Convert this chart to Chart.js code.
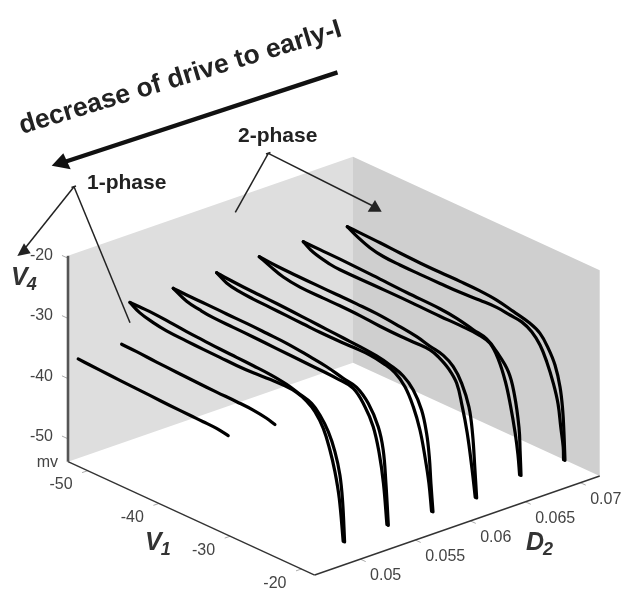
<!DOCTYPE html>
<html>
<head>
<meta charset="utf-8">
<title>V1 V4 D2</title>
<script src="https://cdn.jsdelivr.net/npm/chart.js@4"></script>
<style>
  html, body { margin: 0; padding: 0; background: #fff; }
  canvas { display: block; }
</style>
</head>
<body>
<canvas id="phaseChart" width="621" height="593"></canvas>
<script>
// tick labels
const v1Ticks = [-50, -40, -30, -20];
const d2Ticks = [0.05, 0.055, 0.06, 0.065, 0.07];
const d2TickLabels = ['0.05', '0.055', '0.06', '0.065', '0.07'];
const v4Ticks = [-20, -30, -40, -50];

// D2 value of each curve, left to right
const curveD2 = [0.0414, 0.0454, 0.0494, 0.0534, 0.0574, 0.0614, 0.0654, 0.0694];

// 1-phase curves (one branch)
const c1V1 = [-44.19, -42.55, -39.74, -36.94, -34.13, -31.33, -28.52, -26.66, -24.78, -23.15];
const c1V4 = [-30.16, -30.27, -30.45, -30.60, -30.75, -30.90, -31.00, -31.05, -31.15, -31.45];
const c2V1 = [-44.27, -42.17, -39.37, -36.56, -33.76, -30.95, -28.14, -25.82, -23.94, -22.77];
const c2V4 = [-30.31, -30.39, -30.60, -30.76, -30.90, -31.00, -31.07, -31.20, -31.54, -31.95];

// 2-phase curves (upper and lower branch)
const c3UpV1 = [-49.28, -47.88, -46.01, -43.67, -41.33, -38.99, -36.66, -34.32, -31.98, -29.65, -27.31, -25.44, -23.80, -22.63, -21.46, -20.53, -19.83, -19.45, -19.17];
const c3UpV4 = [-28.61, -28.62, -28.65, -28.88, -29.15, -29.32, -29.49, -29.60, -29.72, -29.88, -30.27, -30.92, -31.52, -32.83, -34.96, -37.77, -41.27, -45.49, -52.03];
const c3LoV1 = [-49.28, -47.88, -46.01, -44.14, -41.33, -38.99, -36.66, -34.32, -31.98, -29.65, -27.77, -25.91, -24.50, -23.33, -22.16, -21.23, -20.53, -19.92, -19.37];
const c3LoV4 = [-28.61, -29.60, -30.20, -30.55, -30.72, -30.82, -30.88, -30.95, -30.90, -30.72, -30.66, -30.84, -31.52, -32.65, -34.79, -37.88, -41.09, -45.19, -52.03];

const c4UpV1 = [-49.38, -47.50, -44.69, -41.89, -39.08, -36.28, -33.47, -30.21, -27.86, -25.54, -23.66, -22.03, -20.63, -19.93, -19.55, -19.21];
const c4UpV4 = [-28.87, -28.96, -28.98, -29.06, -29.10, -29.21, -29.35, -29.80, -30.19, -30.85, -31.32, -33.09, -36.21, -39.70, -45.03, -51.83];
const c4LoV1 = [-49.38, -47.50, -45.63, -43.77, -40.96, -38.16, -34.88, -30.21, -26.46, -24.13, -22.49, -21.33, -20.50, -19.90, -19.41];
const c4LoV4 = [-28.87, -30.00, -30.43, -30.70, -30.77, -30.85, -31.00, -31.18, -31.35, -31.74, -33.91, -36.60, -40.50, -45.18, -51.83];

const c5UpV1 = [-49.47, -48.07, -45.73, -43.39, -41.05, -38.72, -36.38, -34.04, -31.70, -29.37, -27.03, -25.16, -23.29, -21.89, -20.72, -20.02, -19.64, -19.41, -19.12];
const c5UpV4 = [-28.86, -29.03, -29.20, -29.30, -29.40, -29.54, -29.71, -29.88, -30.05, -30.21, -30.49, -30.97, -31.78, -33.34, -36.03, -39.52, -43.20, -47.50, -52.10];
const c5LoV1 = [-49.47, -48.07, -46.43, -44.33, -41.99, -39.65, -37.31, -34.98, -32.64, -30.30, -27.96, -26.09, -24.46, -23.05, -21.89, -20.95, -20.25, -19.69, -19.32];
const c5LoV4 = [-28.86, -29.80, -30.25, -30.45, -30.55, -30.66, -30.77, -30.88, -30.89, -30.83, -30.84, -31.20, -31.86, -33.43, -36.11, -39.48, -43.53, -47.65, -52.10];

const c6UpV1 = [-49.66, -47.22, -44.41, -41.61, -38.80, -36.00, -33.19, -29.93, -27.58, -25.72, -23.85, -22.45, -21.27, -20.25, -19.75, -19.42, -19.17];
const c6UpV4 = [-28.85, -29.07, -29.15, -29.20, -29.22, -29.25, -29.35, -29.74, -30.13, -30.70, -31.20, -32.32, -34.44, -37.82, -41.98, -47.60, -52.35];
const c6LoV1 = [-49.66, -48.16, -46.29, -43.95, -40.68, -38.34, -35.54, -32.73, -29.93, -27.58, -25.72, -24.55, -23.15, -21.97, -21.20, -20.50, -19.83, -19.37];
const c6LoV4 = [-28.85, -29.60, -30.40, -30.80, -30.85, -30.85, -30.95, -31.20, -31.30, -31.25, -31.30, -31.81, -32.97, -34.82, -38.20, -42.24, -47.77, -52.35];

const c7UpV1 = [-49.66, -47.32, -44.51, -39.84, -35.16, -30.49, -28.14, -25.82, -23.94, -22.54, -20.90, -20.05, -19.40, -19.25, -19.12];
const c7UpV4 = [-28.90, -28.95, -29.00, -29.20, -29.45, -29.60, -29.92, -30.55, -31.05, -32.42, -34.83, -38.19, -43.35, -47.09, -51.12];
const c7LoV1 = [-49.66, -48.26, -45.91, -44.51, -39.84, -35.16, -30.49, -27.68, -24.88, -23.47, -22.30, -21.30, -20.60, -19.95, -19.55, -19.32];
const c7LoV4 = [-28.90, -29.90, -30.60, -30.75, -30.75, -30.75, -30.85, -30.85, -31.00, -31.54, -33.55, -36.78, -40.29, -44.45, -47.92, -51.12];

const c8UpV1 = [-49.66, -47.88, -45.07, -42.27, -39.46, -36.66, -33.85, -31.05, -28.71, -26.38, -24.04, -22.63, -21.47, -20.53, -19.83, -19.45, -19.27, -19.13];
const c8UpV4 = [-28.95, -29.00, -29.12, -29.30, -29.42, -29.45, -29.42, -29.48, -29.73, -30.35, -31.06, -31.96, -33.82, -36.08, -39.30, -42.97, -46.74, -51.15];
const c8LoV1 = [-49.66, -48.34, -46.48, -44.61, -42.27, -39.46, -36.66, -33.85, -31.05, -28.71, -26.84, -25.20, -23.80, -22.63, -21.69, -20.75, -20.10, -19.72, -19.38, -19.33];
const c8LoV4 = [-28.95, -29.80, -30.70, -31.15, -31.29, -31.31, -31.30, -31.25, -31.05, -30.95, -31.20, -31.45, -32.32, -33.90, -36.16, -39.29, -42.31, -45.95, -49.06, -51.15];

// box limits
const d2Min = 0.0456, d2Max = 0.0715;
const v1Min = -52.1, v1Max = -17.5;
const v4Min = -54.2, v4Max = -20;

// fixed 3d view, gives x/y on the flat chart scales
function project(d2, v1, v4) {
    return {
        x: 68 + (v1 - v1Min) * 7.13 + (d2 - d2Min) * 11004,
        y: 461.7 + (v1 - v1Min) * 3.275 - (d2 - d2Min) * 3822 - (v4 - v4Min) * 6.02
    };
}

function curve(d2, v1s, v4s) {
    return v1s.map((v1, i) => project(d2, v1, v4s[i]));
}

function curveDataset(d2, v1s, v4s) {
    return {
        data: curve(d2, v1s, v4s),
        showLine: true,
        borderColor: '#000',
        borderWidth: 3.2,
        tension: 0.4,
        borderCapStyle: 'round',
        borderJoinStyle: 'round',
        pointRadius: 0,
        order: 1
    };
}

function wallDataset(points, color) {
    return {
        data: points,
        showLine: true,
        fill: 'shape',
        backgroundColor: color,
        borderWidth: 0,
        borderColor: color,
        tension: 0,
        pointRadius: 0,
        order: 10
    };
}

function axisDataset(points, color, width) {
    return {
        data: points,
        showLine: true,
        borderColor: color,
        borderWidth: width,
        tension: 0,
        pointRadius: 0,
        order: 5
    };
}

const datasets = [
    curveDataset(curveD2[0], c1V1, c1V4),
    curveDataset(curveD2[1], c2V1, c2V4),
    curveDataset(curveD2[2], c3UpV1, c3UpV4),
    curveDataset(curveD2[2], c3LoV1, c3LoV4),
    curveDataset(curveD2[3], c4UpV1, c4UpV4),
    curveDataset(curveD2[3], c4LoV1, c4LoV4),
    curveDataset(curveD2[4], c5UpV1, c5UpV4),
    curveDataset(curveD2[4], c5LoV1, c5LoV4),
    curveDataset(curveD2[5], c6UpV1, c6UpV4),
    curveDataset(curveD2[5], c6LoV1, c6LoV4),
    curveDataset(curveD2[6], c7UpV1, c7UpV4),
    curveDataset(curveD2[6], c7LoV1, c7LoV4),
    curveDataset(curveD2[7], c8UpV1, c8UpV4),
    curveDataset(curveD2[7], c8LoV1, c8LoV4),

    // back walls
    wallDataset([project(d2Min, v1Min, v4Min), project(d2Min, v1Min, v4Max), project(d2Max, v1Min, v4Max), project(d2Max, v1Min, v4Min)], '#dedede'),
    wallDataset([project(d2Max, v1Min, v4Min), project(d2Max, v1Min, v4Max), project(d2Max, v1Max, v4Max), project(d2Max, v1Max, v4Min)], '#cfcfcf'),

    // axis lines
    axisDataset([project(d2Min, v1Min, v4Min), project(d2Min, v1Min, v4Max)], '#555', 2.6),
    axisDataset([project(d2Min, v1Min, v4Min), project(d2Min, v1Max, v4Min)], '#333', 1.4),
    axisDataset([project(d2Min, v1Max, v4Min), project(d2Max, v1Max, v4Min)], '#333', 1.4)
];

// small grey tick marks
v1Ticks.forEach(v => {
    datasets.push(axisDataset([project(d2Min, v + 0.65, v4Min), project(d2Min - 0.0005, v + 0.65, v4Min)], '#aaa', 1));
});
d2Ticks.forEach(d => {
    datasets.push(axisDataset([project(d - 0.00025, v1Max, v4Min), project(d - 0.00025, v1Max + 0.75, v4Min)], '#aaa', 1));
});
v4Ticks.forEach(v => {
    datasets.push(axisDataset([project(d2Min, v1Min, v - 0.4), project(d2Min, v1Min - 0.85, v - 0.4)], '#aaa', 1));
});

function arrowHead(ctx, tip, a, b) {
    ctx.beginPath();
    ctx.moveTo(tip[0], tip[1]);
    ctx.lineTo(a[0], a[1]);
    ctx.lineTo(b[0], b[1]);
    ctx.closePath();
    ctx.fill();
}

function segment(ctx, from, to) {
    ctx.beginPath();
    ctx.moveTo(from[0], from[1]);
    ctx.lineTo(to[0], to[1]);
    ctx.stroke();
}

function subLabel(ctx, main, sub, x, y, subDy) {
    ctx.fillStyle = '#333';
    ctx.textAlign = 'left';
    ctx.textBaseline = 'alphabetic';
    ctx.font = 'italic bold 25px "Liberation Sans"';
    ctx.fillText(main, x, y);
    const w = ctx.measureText(main).width;
    ctx.font = 'italic bold 18px "Liberation Sans"';
    ctx.fillText(sub, x + w - 1, y + subDy);
}

// tick labels, axis names and the hand drawn notes on top of the plot
const labelsPlugin = {
    id: 'labels',
    afterDraw(chart) {
        const ctx = chart.ctx;
        const sx = chart.scales.x, sy = chart.scales.y;
        ctx.save();

        ctx.fillStyle = '#444';
        ctx.font = '16px "Liberation Sans"';
        ctx.textBaseline = 'middle';

        ctx.textAlign = 'right';
        v4Ticks.forEach(v => {
            const p = project(d2Min, v1Min, v);
            ctx.fillText(String(v), sx.getPixelForValue(p.x) - 15, sy.getPixelForValue(p.y));
        });
        ctx.fillText('mv', 58, 463);

        ctx.textAlign = 'center';
        v1Ticks.forEach(v => {
            const p = project(d2Min, v, v4Min);
            ctx.fillText(String(v), sx.getPixelForValue(p.x) - 22, sy.getPixelForValue(p.y) + 16.5);
        });

        ctx.textAlign = 'left';
        d2Ticks.forEach((d, i) => {
            const p = project(d, v1Max, v4Min);
            ctx.fillText(d2TickLabels[i], sx.getPixelForValue(p.x) + 7, sy.getPixelForValue(p.y) + 17.5);
        });

        subLabel(ctx, 'V', '4', 11, 285, 5);
        subLabel(ctx, 'V', '1', 145, 550, 5);
        subLabel(ctx, 'D', '2', 526, 550, 5);

        ctx.fillStyle = '#222';
        ctx.font = 'bold 21px "Liberation Sans"';
        ctx.textBaseline = 'alphabetic';
        ctx.textAlign = 'left';
        ctx.fillText('1-phase', 87, 189);
        ctx.fillText('2-phase', 238, 142);

        ctx.save();
        ctx.translate(22, 134);
        ctx.rotate(-17 * Math.PI / 180);
        ctx.font = 'bold 26.5px "Liberation Sans"';
        ctx.fillText('decrease of drive to early-I', 0, 0);
        ctx.restore();

        // big arrow
        ctx.strokeStyle = '#111';
        ctx.fillStyle = '#111';
        ctx.lineWidth = 4.4;
        segment(ctx, [337.5, 72.3], [66, 161.5]);
        arrowHead(ctx, [51.7, 165.7], [63.3, 153.3], [70.7, 169.3]);

        // pointers
        ctx.strokeStyle = '#222';
        ctx.fillStyle = '#222';
        ctx.lineWidth = 1.5;
        segment(ctx, [74, 186.7], [130, 322.7]);
        segment(ctx, [74, 186.7], [26, 247]);
        segment(ctx, [71.5, 187.5], [76, 186]);
        arrowHead(ctx, [17.3, 256], [24, 243.3], [30.7, 253.3]);

        segment(ctx, [268.3, 153.3], [235.3, 212.3]);
        segment(ctx, [268.3, 153.3], [372, 205.5]);
        segment(ctx, [266, 154], [270.5, 152.5]);
        arrowHead(ctx, [381.7, 211.7], [375, 200], [367.7, 211.7]);

        ctx.restore();
    }
};

new Chart(document.getElementById('phaseChart').getContext('2d'), {
    type: 'scatter',
    data: { datasets: datasets },
    options: {
        responsive: false,
        animation: false,
        layout: { padding: 0 },
        plugins: { legend: { display: false }, tooltip: { enabled: false } },
        scales: {
            x: { type: 'linear', display: false, min: 0, max: 621 },
            y: { type: 'linear', display: false, min: 0, max: 593, reverse: true }
        }
    },
    plugins: [labelsPlugin]
});
</script>
</body>
</html>
